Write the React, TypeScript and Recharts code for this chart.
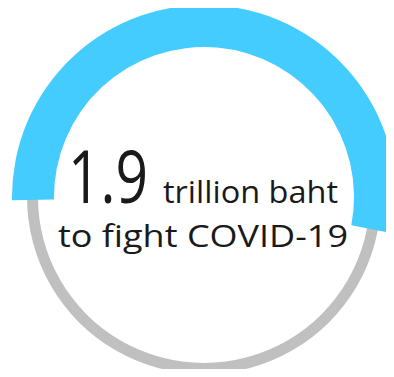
import { Cell, Pie, PieChart } from "recharts";

// ring gauge: blue arc over a thin grey track
const segmentNames = ["COVID-19 budget", "rest"];
const segmentValues = [53.3, 46.7];
const trackValues = [100];
const headline = "1.9";
const unitLabel = "trillion baht";
const subLabel = "to fight COVID-19";

const W = 394;
const H = 377;
const CX = 204;
const CY = 197;

const App = () => {
  const arcData = segmentNames.map((name, i) => ({ name, value: segmentValues[i] }));
  const trackData = trackValues.map((value, i) => ({ name: "track" + i, value }));

  return (
    <div style={{ margin: -8, width: W, height: H, fontFamily: "'Open Sans', sans-serif" }}>
      <PieChart width={W} height={H} margin={{ top: 0, right: 0, bottom: 0, left: 0 }}>
        <Pie
          data={trackData}
          dataKey="value"
          cx={CX}
          cy={CY}
          innerRadius={166}
          outerRadius={177}
          startAngle={90}
          endAngle={-270}
          stroke="none"
          isAnimationActive={false}
        >
          {trackData.map((d) => (
            <Cell key={d.name} fill="#c0c0c0" />
          ))}
        </Pie>
        <Pie
          data={arcData}
          dataKey="value"
          cx={CX}
          cy={CY}
          innerRadius={150}
          outerRadius={192}
          startAngle={181}
          endAngle={-179}
          stroke="none"
          isAnimationActive={false}
        >
          {arcData.map((d, i) => (
            <Cell key={d.name} fill={i === 0 ? "#45ccff" : "transparent"} />
          ))}
        </Pie>
        <text
          x={CX - 136}
          y={203}
          fontSize={74}
          fill="#1a1a1a"
          textLength={80}
          lengthAdjust="spacingAndGlyphs"
          style={{ fontFamily: "'Open Sans', sans-serif" }}
        >
          {headline}
        </text>
        <text
          x={CX - 41}
          y={203}
          fontSize={31}
          fill="#1a1a1a"
          textLength={175}
          lengthAdjust="spacingAndGlyphs"
          style={{ fontFamily: "'Open Sans', sans-serif" }}
        >
          {unitLabel}
        </text>
        <text
          x={CX - 146}
          y={247}
          fontSize={31}
          fill="#1a1a1a"
          textLength={290}
          lengthAdjust="spacingAndGlyphs"
          style={{ fontFamily: "'Open Sans', sans-serif" }}
        >
          {subLabel}
        </text>
      </PieChart>
    </div>
  );
};

export default App;
